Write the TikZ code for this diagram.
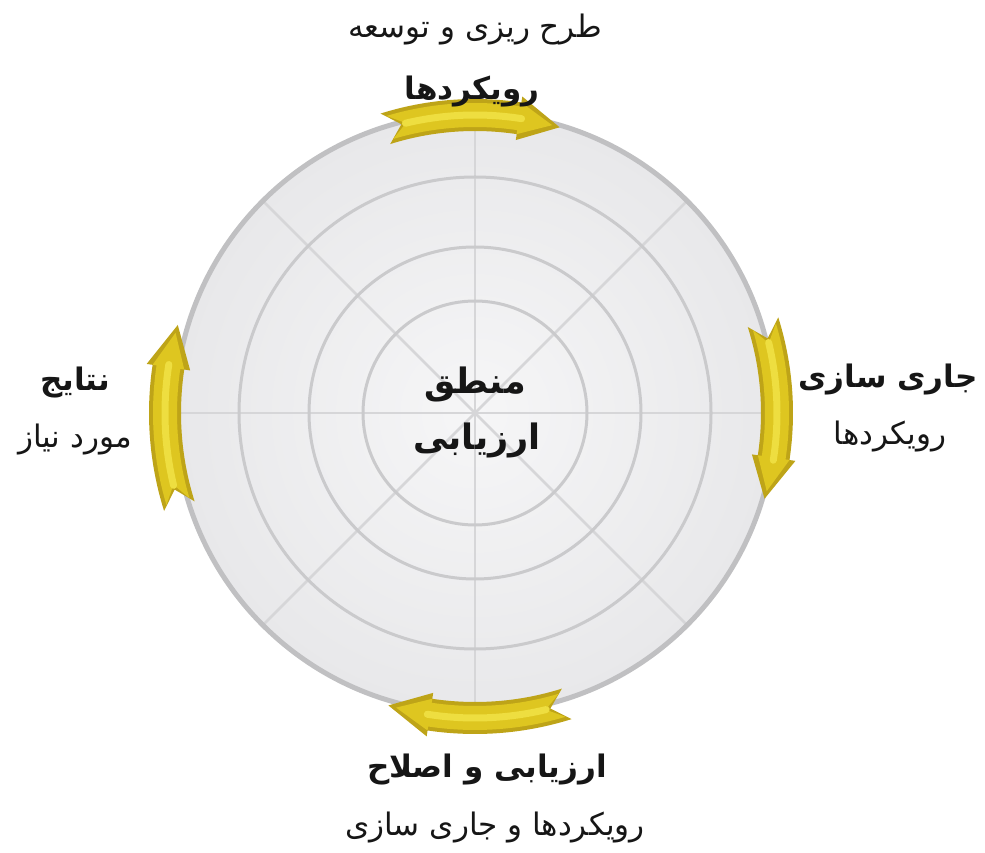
\documentclass[tikz,border=0pt]{standalone}
\usepackage{fontspec}
\newfontfamily\fa[Script=Arabic]{DejaVu Sans}
\TeXXeTstate=1
\definecolor{ringgray}{RGB}{202,202,204}
\definecolor{spokegray}{RGB}{214,214,216}
\definecolor{rimgray}{RGB}{192,192,194}
\definecolor{golddark}{RGB}{190,164,24}
\definecolor{goldmid}{RGB}{222,198,32}
\definecolor{goldlight}{RGB}{238,222,64}
\definecolor{txt}{RGB}{22,22,22}
\tikzset{
  ring/.style={draw=ringgray, line width=3pt},
  spoke/.style={draw=spokegray, line width=2.5pt},
  rim/.style={draw=rimgray, line width=5pt},
  lbl/.style={text=txt, font=\fa\fontsize{31}{36}\selectfont, inner sep=2pt},
  lblb/.style={lbl, font=\fa\bfseries\fontsize{31}{36}\selectfont},
  lblc/.style={lbl, font=\fa\bfseries\fontsize{35}{40}\selectfont},
}
% #1 centre angle, #2 radius, #3 body half width, #4 head half width,
% #5 tail offset (deg), #6 tip offset (deg), #7 colour
\newcommand\ribbonshape[7]{%
  \pgfmathsetmacro\tA{#1+#5}\pgfmathsetmacro\tB{#1-8.5}%
  \pgfmathsetmacro\tC{#1-#6}\pgfmathsetmacro\tN{#1+#5-3.2}%
  \pgfmathsetmacro\rOu{#2+#3}\pgfmathsetmacro\rIn{#2-#3}%
  \pgfmathsetmacro\hOu{#2+#4}\pgfmathsetmacro\hIn{#2-#4}%
  \fill[#7] (\tA:\rOu) arc[start angle=\tA,end angle=\tB,radius=\rOu]
    -- (\tB:\hOu) -- (\tC:#2) -- (\tB:\hIn) -- (\tB:\rIn)
    arc[start angle=\tB,end angle=\tA,radius=\rIn] -- (\tN:#2) -- cycle;
}
\newcommand\ribbonarrow[2]{%
  \ribbonshape{#1}{#2}{16}{22}{17.5}{16.5}{golddark}%
  \ribbonshape{#1}{#2}{12}{16}{16.6}{15}{goldmid}%
  \pgfmathsetmacro\sA{#1+13.5}\pgfmathsetmacro\sB{#1-9}%
  \draw[goldlight, line width=7pt, line cap=round] (\sA:#2) arc[start angle=\sA,end angle=\sB,radius=#2];
}
\begin{document}
\begin{tikzpicture}[x=1pt,y=1pt]
\useasboundingbox (0,0) rectangle (985,852);
\coordinate (c) at (475,439);
\begin{scope}[shift={(c)}]
  \shade[inner color={rgb,255:red,246;green,246;blue,247}, outer color={rgb,255:red,232;green,232;blue,234}] (0,0) circle[radius=300];
  \foreach \a in {0,45,...,315} \draw[spoke] (0,0) -- (\a:298);
  \foreach \r in {112,166,236} \draw[ring] (0,0) circle[radius=\r];
  \draw[rim] (0,0) circle[radius=300];
  \ribbonarrow{90}{298}
  \ribbonarrow{0}{302}
  \ribbonarrow{270}{305}
  \ribbonarrow{180}{310}
\end{scope}
\node[lbl]  (t1) at (475,822) {\beginR طرح ریزی و توسعه\endR};
\node[lblb] (t2) at (472,760) {\beginR رویکردها\endR};
\node[lblb] (r1) at (888,472) {\beginR جاری سازی\endR};
\node[lbl]  (r2) at (890,415) {\beginR رویکردها\endR};
\node[lblb] (l1) at (75,469) {\beginR نتایج\endR};
\node[lbl]  (l2) at (75,412) {\beginR مورد نیاز\endR};
\node[lblb] (b1) at (487,82) {\beginR ارزیابی و اصلاح\endR};
\node[lbl]  (b2) at (495,24) {\beginR رویکردها و جاری سازی\endR};
\node[lblc] (c1) at (475,467) {\beginR منطق\endR};
\node[lblc] (c2) at (477,412) {\beginR ارزیابی\endR};
\end{tikzpicture}
\end{document}
